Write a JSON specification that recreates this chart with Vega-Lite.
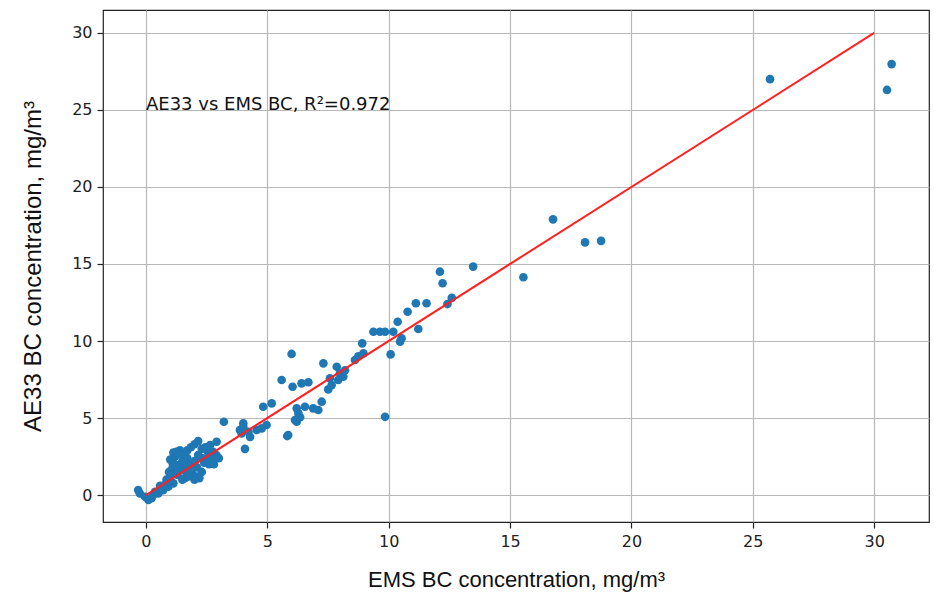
{
  "$schema": "https://vega.github.io/schema/vega-lite/v6.json",
  "width": 826,
  "height": 512,
  "autosize": {"type": "none"},
  "padding": {"left": 103, "top": 10, "right": 5, "bottom": 79},
  "background": "white",
  "config": {
    "view": {"stroke": "#222", "strokeWidth": 1.2},
    "axis": {
      "grid": true, "gridColor": "#b8b8b8", "gridWidth": 1.2,
      "domain": false, "tickColor": "#222", "tickSize": 6, "tickWidth": 1.2,
      "labelFont": "DejaVu Sans", "labelFontSize": 16, "labelColor": "#222", "labelPadding": 5,
      "titleFont": "Liberation Sans", "titleFontWeight": "normal", "titleColor": "#111"
    }
  },
  "datasets": {
    "pts": [
      {"ems": -0.32, "ae": 0.32}, {"ems": -0.25, "ae": 0.1}, {"ems": -0.04, "ae": -0.11}, {"ems": 0.1, "ae": -0.32},
      {"ems": 0.23, "ae": -0.21}, {"ems": 0.3, "ae": 0.0}, {"ems": 0.37, "ae": 0.21}, {"ems": 0.51, "ae": 0.11},
      {"ems": 0.71, "ae": 0.32}, {"ems": 0.58, "ae": 0.6}, {"ems": 0.8, "ae": 0.7}, {"ems": 0.92, "ae": 0.54},
      {"ems": 1.13, "ae": 0.76}, {"ems": 1.0, "ae": 0.95}, {"ems": 0.85, "ae": 1.0},
      {"ems": 1.0, "ae": 1.2}, {"ems": 1.1, "ae": 2.1}, {"ems": 1.0, "ae": 2.3}, {"ems": 1.2, "ae": 2.5},
      {"ems": 1.13, "ae": 2.75}, {"ems": 1.1, "ae": 1.8}, {"ems": 1.2, "ae": 1.5}, {"ems": 1.3, "ae": 1.3},
      {"ems": 1.4, "ae": 2.9}, {"ems": 1.5, "ae": 2.6}, {"ems": 1.5, "ae": 2.2}, {"ems": 1.4, "ae": 1.9},
      {"ems": 1.6, "ae": 1.6}, {"ems": 1.6, "ae": 1.1}, {"ems": 1.7, "ae": 2.9}, {"ems": 1.7, "ae": 2.4},
      {"ems": 1.85, "ae": 3.1}, {"ems": 1.8, "ae": 2.0}, {"ems": 1.9, "ae": 1.4}, {"ems": 2.15, "ae": 2.6},
      {"ems": 2.0, "ae": 3.3}, {"ems": 2.0, "ae": 2.2}, {"ems": 2.1, "ae": 1.8}, {"ems": 2.1, "ae": 1.2},
      {"ems": 2.15, "ae": 3.5}, {"ems": 2.3, "ae": 3.0}, {"ems": 2.3, "ae": 2.4}, {"ems": 2.3, "ae": 1.5},
      {"ems": 2.45, "ae": 3.1}, {"ems": 2.4, "ae": 2.1}, {"ems": 2.55, "ae": 2.8}, {"ems": 2.6, "ae": 2.5},
      {"ems": 2.7, "ae": 2.3}, {"ems": 2.8, "ae": 2.0}, {"ems": 2.9, "ae": 2.6}, {"ems": 3.0, "ae": 2.4},
      {"ems": 2.2, "ae": 1.1}, {"ems": 2.0, "ae": 1.0}, {"ems": 1.5, "ae": 1.0}, {"ems": 1.3, "ae": 1.6},
      {"ems": 1.2, "ae": 2.0}, {"ems": 1.6, "ae": 2.0}, {"ems": 1.8, "ae": 1.6}, {"ems": 2.6, "ae": 2.0},
      {"ems": 1.25, "ae": 2.8}, {"ems": 0.95, "ae": 1.5}, {"ems": 1.75, "ae": 1.2},
      {"ems": 2.91, "ae": 3.46}, {"ems": 2.64, "ae": 3.25}, {"ems": 2.5, "ae": 3.03}, {"ems": 2.77, "ae": 2.81},
      {"ems": 3.21, "ae": 4.76}, {"ems": 4.01, "ae": 4.66}, {"ems": 3.87, "ae": 4.22}, {"ems": 4.22, "ae": 4.11},
      {"ems": 4.29, "ae": 3.78}, {"ems": 4.56, "ae": 4.22}, {"ems": 4.77, "ae": 4.33}, {"ems": 4.08, "ae": 3.0},
      {"ems": 4.97, "ae": 4.55}, {"ems": 4.83, "ae": 5.73}, {"ems": 5.18, "ae": 5.95}, {"ems": 5.86, "ae": 3.9},
      {"ems": 4.01, "ae": 4.45}, {"ems": 3.94, "ae": 4.0},
      {"ems": 5.59, "ae": 7.47}, {"ems": 6.0, "ae": 9.16}, {"ems": 6.04, "ae": 7.03}, {"ems": 6.41, "ae": 7.25},
      {"ems": 6.69, "ae": 7.32}, {"ems": 7.31, "ae": 8.55}, {"ems": 7.58, "ae": 7.58}, {"ems": 7.65, "ae": 7.14},
      {"ems": 7.51, "ae": 6.86}, {"ems": 7.24, "ae": 6.06}, {"ems": 6.21, "ae": 5.63}, {"ems": 6.55, "ae": 5.73},
      {"ems": 6.89, "ae": 5.63}, {"ems": 7.1, "ae": 5.52}, {"ems": 6.28, "ae": 5.3}, {"ems": 6.21, "ae": 4.76},
      {"ems": 6.14, "ae": 4.87}, {"ems": 5.82, "ae": 3.83}, {"ems": 6.35, "ae": 5.05},
      {"ems": 7.86, "ae": 8.33}, {"ems": 7.99, "ae": 7.9}, {"ems": 8.13, "ae": 7.68}, {"ems": 7.92, "ae": 7.47},
      {"ems": 8.2, "ae": 8.1}, {"ems": 8.61, "ae": 8.77}, {"ems": 8.91, "ae": 9.85}, {"ems": 8.96, "ae": 9.2},
      {"ems": 8.75, "ae": 9.0}, {"ems": 9.37, "ae": 10.6}, {"ems": 9.64, "ae": 10.6}, {"ems": 9.85, "ae": 10.6},
      {"ems": 10.19, "ae": 10.6}, {"ems": 10.53, "ae": 10.17}, {"ems": 10.47, "ae": 9.96}, {"ems": 10.08, "ae": 9.13},
      {"ems": 9.85, "ae": 5.08}, {"ems": 10.37, "ae": 11.25}, {"ems": 10.78, "ae": 11.9}, {"ems": 11.12, "ae": 12.45},
      {"ems": 11.56, "ae": 12.45}, {"ems": 11.22, "ae": 10.78}, {"ems": 12.42, "ae": 12.4}, {"ems": 12.6, "ae": 12.8},
      {"ems": 12.11, "ae": 14.5}, {"ems": 12.22, "ae": 13.75}, {"ems": 13.48, "ae": 14.83}, {"ems": 15.55, "ae": 14.14},
      {"ems": 16.77, "ae": 17.9}, {"ems": 18.09, "ae": 16.4}, {"ems": 18.75, "ae": 16.5}, {"ems": 25.71, "ae": 27.0},
      {"ems": 30.72, "ae": 27.98}, {"ems": 30.53, "ae": 26.3}
    ],
    "fit": [{"ems": 0, "ae": 0}, {"ems": 30, "ae": 30}],
    "note": [{"ems": 0, "ae": 25, "label": "AE33 vs EMS BC, R²=0.972"}]
  },
  "layer": [
    {
      "data": {"name": "pts"},
      "mark": {"type": "circle", "size": 75, "opacity": 1, "color": "#1f77b4"},
      "encoding": {
        "x": {"field": "ems", "type": "quantitative",
              "scale": {"domain": [-1.77, 32.26], "nice": false, "zero": false},
              "axis": {"values": [0, 5, 10, 15, 20, 25, 30], "title": "EMS BC concentration, mg/m³", "titleFontSize": 22, "titlePadding": 20}},
        "y": {"field": "ae", "type": "quantitative",
              "scale": {"domain": [-1.75, 31.49], "nice": false, "zero": false},
              "axis": {"values": [0, 5, 10, 15, 20, 25, 30], "title": "AE33 BC concentration, mg/m³", "titleFontSize": 24, "titlePadding": 26}}
      }
    },
    {
      "data": {"name": "fit"},
      "mark": {"type": "line", "color": "#ff2020", "strokeWidth": 2},
      "encoding": {
        "x": {"field": "ems", "type": "quantitative"},
        "y": {"field": "ae", "type": "quantitative"}
      }
    },
    {
      "data": {"name": "note"},
      "mark": {"type": "text", "align": "left", "baseline": "alphabetic", "font": "DejaVu Sans", "fontSize": 18, "color": "#111"},
      "encoding": {
        "x": {"field": "ems", "type": "quantitative"},
        "y": {"field": "ae", "type": "quantitative"},
        "text": {"field": "label"}
      }
    }
  ]
}
